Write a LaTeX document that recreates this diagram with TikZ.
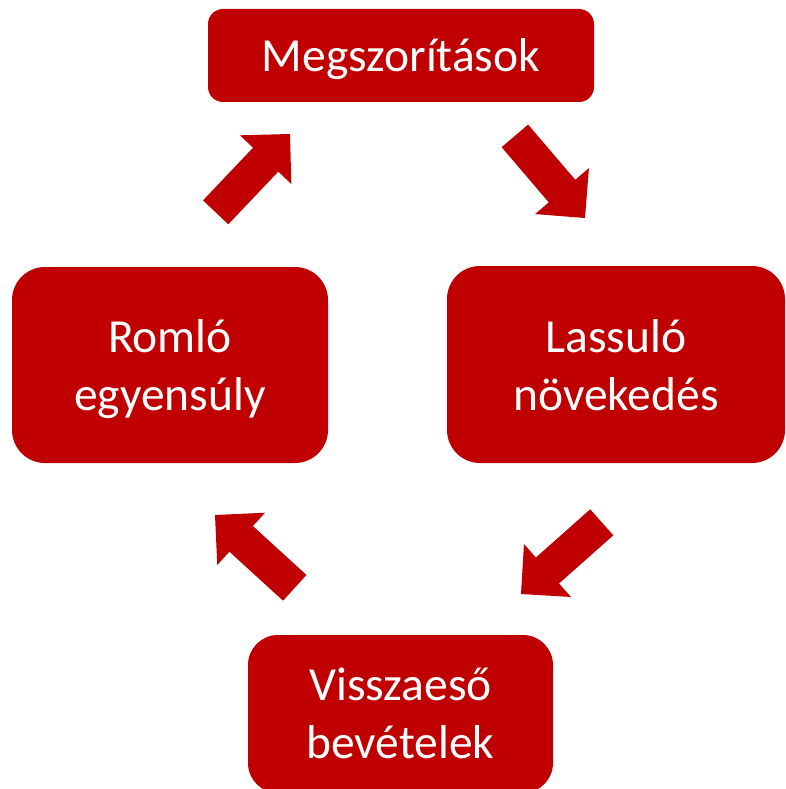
\documentclass[tikz,border=0pt]{standalone}
\usepackage{fontspec}
\setmainfont{Carlito}
\definecolor{boxred}{HTML}{C00000}
\tikzset{
  box/.style={fill=boxred, text=white, align=center, inner sep=0pt,
    font=\fontsize{47.5}{58}\selectfont},
  blockarrow/.pic={\fill[boxred] (0,0) -- (-35.4,35.4) -- (-35.4,17.4) -- (-108,17.4)
      -- (-108,-17.4) -- (-35.4,-17.4) -- (-35.4,-35.4) -- cycle;}
}
\begin{document}
\begin{tikzpicture}[x=1pt,y=-1pt]
\useasboundingbox (0,0) rectangle (785,789);
\node[box, minimum width=386pt, minimum height=93pt, rounded corners=15pt,
  text height=33pt, text depth=0pt] (top) at (401,55.5) {Megszorítások};
\node[box, minimum width=338pt, minimum height=197pt, rounded corners=33pt,
  text height=91pt, text depth=0pt] (right) at (616,364.5) {Lassuló\\növekedés};
\node[box, minimum width=305pt, minimum height=158pt, rounded corners=30pt,
  text height=88pt, text depth=0pt] (bottom) at (400.5,714) {Visszaeső\\bevételek};
\node[box, minimum width=316pt, minimum height=196pt, rounded corners=33pt,
  text height=90pt, text depth=0pt] (left) at (170,365) {Romló\\egyensúly};
\pic[rotate=46.5] (a1) at (290,134) {blockarrow};
\pic[rotate=-49.5] (a2) at (585,218) {blockarrow};
\pic[rotate=221.6] (a3) at (521,594) {blockarrow};
\pic[rotate=137.6] (a4) at (215,515) {blockarrow};
\end{tikzpicture}
\end{document}
